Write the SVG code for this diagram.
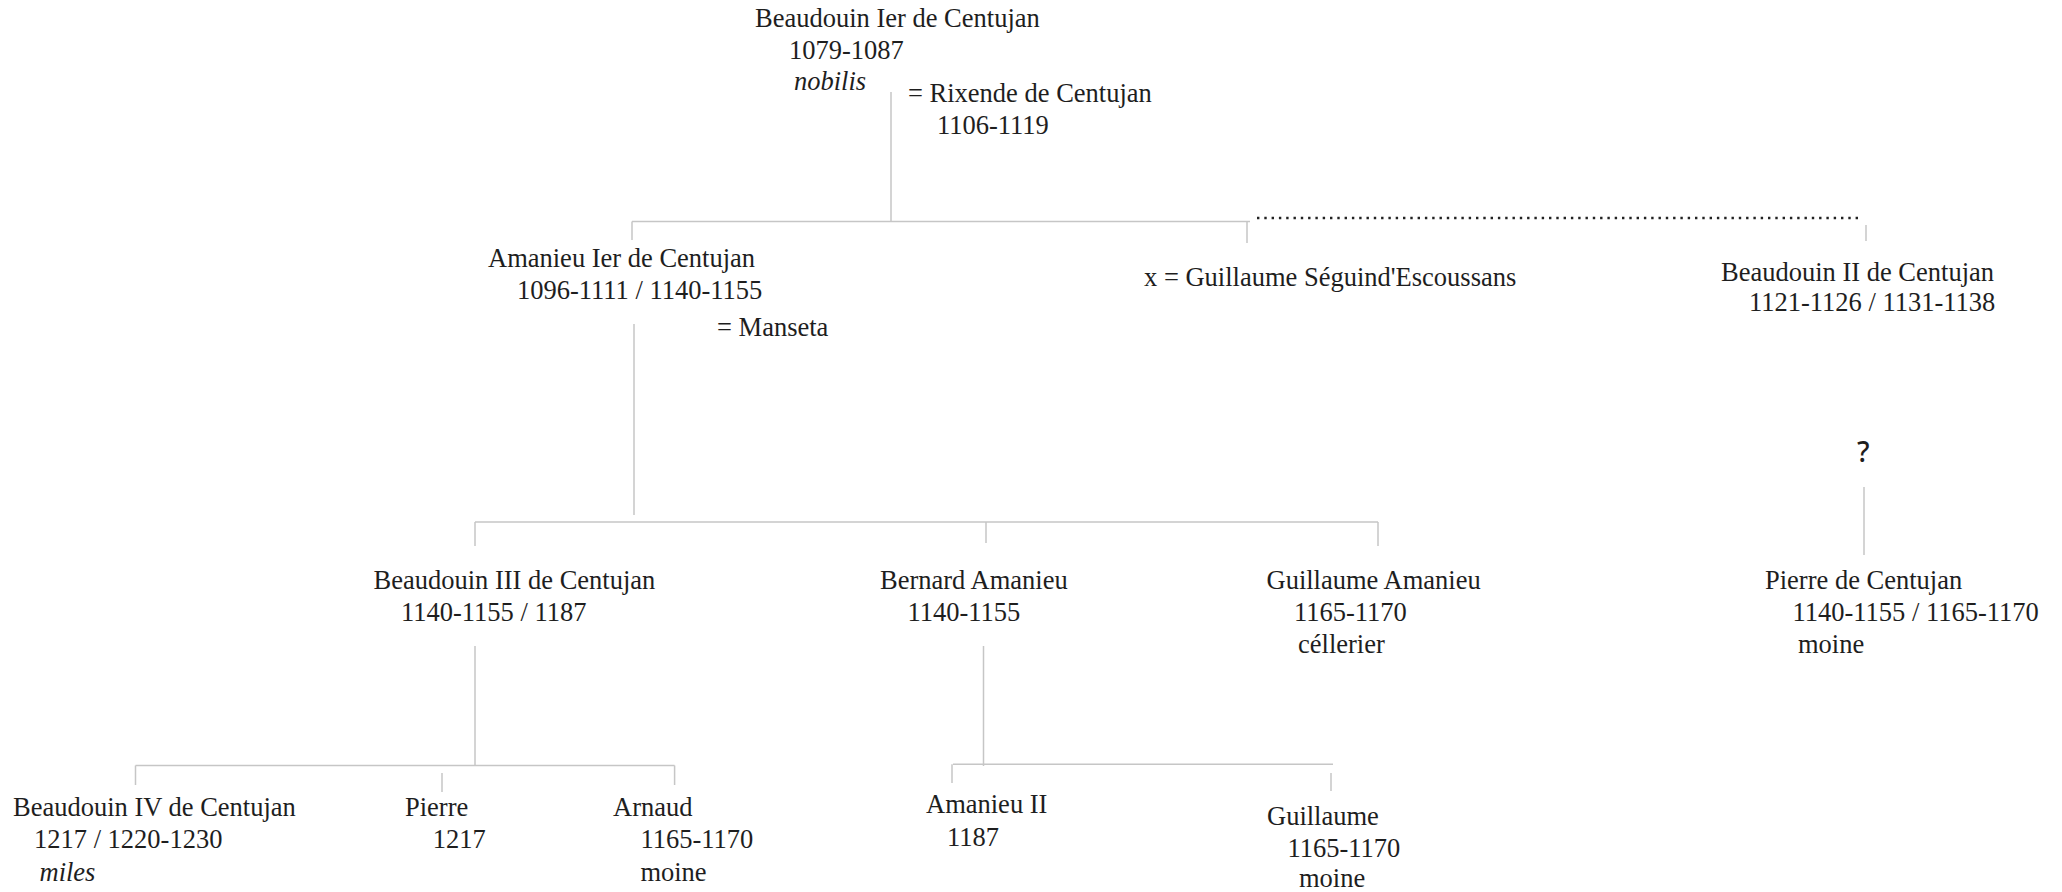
<svg xmlns="http://www.w3.org/2000/svg" width="2062" height="892" viewBox="0 0 2062 892">
<style>
text{font-family:"Liberation Serif","Times New Roman",serif;font-size:26.5px;fill:#1e1e1e}
.i{font-style:italic}
.q{font-family:"Noto Sans","Open Sans",sans-serif;font-size:28px;font-weight:500}
.ln{stroke:#c6c6c6;stroke-width:1.5;fill:none}
.dot{stroke:#222;stroke-width:2.6;stroke-dasharray:2.4 4.9;fill:none}
</style>
<rect width="2062" height="892" fill="#fff"/>
<g id="connectors">
<path class="ln" d="M891 92V221.5M632 221.5H1250M632 221.5V240M1247 221.5V243M1866 225V241"/>
<path class="dot" d="M1257 218H1860"/>
<path class="ln" d="M634 324V515M475 522H1378M475 522V546M986 522V543M1378 522V546"/>
<path class="ln" d="M1864 487V555"/>
<path class="ln" d="M475 646V765.5M135.5 765.5H674.6M135.5 765.5V785M442 773V792M674.6 765.5V785"/>
<path class="ln" d="M983.5 646V766M953 764.3H1333M952 764.3V783M1331 773V791"/>
</g>
<g id="n_beaudouin1">
<text x="755" y="27">Beaudouin Ier de Centujan</text>
<text x="789" y="59">1079-1087</text>
<text class="i" x="794" y="90">nobilis</text>
</g>
<g id="n_rixende">
<text x="908" y="102">= Rixende de Centujan</text>
<text x="937" y="134">1106-1119</text>
</g>
<g id="n_amanieu1">
<text x="488" y="267">Amanieu Ier de Centujan</text>
<text x="517" y="299">1096-1111 / 1140-1155</text>
</g>
<g id="n_manseta">
<text x="717" y="336">= Manseta</text>
</g>
<g id="n_guillaume_seguin">
<text x="1144" y="286">x = Guillaume Séguind'Escoussans</text>
</g>
<g id="n_beaudouin2">
<text x="1721" y="280.5">Beaudouin II de Centujan</text>
<text x="1749" y="311">1121-1126 / 1131-1138</text>
</g>
<g id="n_unknown">
<text class="q" x="1857" y="462">?</text>
</g>
<g id="n_beaudouin3">
<text x="373.5" y="588.5">Beaudouin III de Centujan</text>
<text x="401" y="621">1140-1155 / 1187</text>
</g>
<g id="n_bernard">
<text x="880" y="588.5">Bernard Amanieu</text>
<text x="907.5" y="621">1140-1155</text>
</g>
<g id="n_guillaume_amanieu">
<text x="1266.5" y="588.5">Guillaume Amanieu</text>
<text x="1294" y="621">1165-1170</text>
<text x="1298" y="653">céllerier</text>
</g>
<g id="n_pierre_centujan">
<text x="1765" y="588.5">Pierre de Centujan</text>
<text x="1792.5" y="621">1140-1155 / 1165-1170</text>
<text x="1798" y="653">moine</text>
</g>
<g id="n_beaudouin4">
<text x="13" y="816">Beaudouin IV de Centujan</text>
<text x="34" y="847.5">1217 / 1220-1230</text>
<text class="i" x="39.5" y="880.5">miles</text>
</g>
<g id="n_pierre">
<text x="405" y="816">Pierre</text>
<text x="432.7" y="847.5">1217</text>
</g>
<g id="n_arnaud">
<text x="613" y="816">Arnaud</text>
<text x="640.4" y="847.5">1165-1170</text>
<text x="640.4" y="880.5">moine</text>
</g>
<g id="n_amanieu2">
<text x="926" y="813">Amanieu II</text>
<text x="947" y="846">1187</text>
</g>
<g id="n_guillaume">
<text x="1267" y="825">Guillaume</text>
<text x="1287.5" y="857">1165-1170</text>
<text x="1299" y="887">moine</text>
</g>
</svg>
